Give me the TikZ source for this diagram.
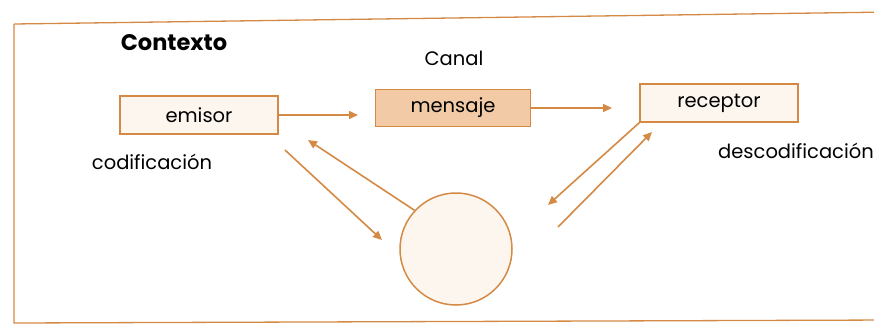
\documentclass[tikz,border=0pt]{standalone}
\usepackage{fontspec}
\setmainfont{Poppins}
\usetikzlibrary{arrows.meta}
\definecolor{brd}{HTML}{D48A45}
\definecolor{pale}{HTML}{FDF6EE}
\definecolor{peach}{HTML}{F2CBA6}
\begin{document}
\begin{tikzpicture}[x=1pt,y=-1pt,
thick,box/.style={draw=brd,line width=1.3pt,fill=pale,minimum width=158pt,minimum height=38pt,font=\fontsize{19.5}{22}\selectfont},
lbl/.style={font=\fontsize{19.5}{22}\selectfont},
arr/.style={draw=brd,line width=1.6pt,-{Triangle[length=9pt,width=8pt]}}]

\useasboundingbox (0,0) rectangle (874,327);
\fill[white] (0,0) rectangle (874,327);
\begin{scope}
\clip (0,0) rectangle (874,327);
\draw[brd,line width=1.3pt] (14,24) -- (14,323) -- (890,320);
\draw[brd,line width=1.3pt] (14,24) -- (890,12);
\end{scope}

\node[box] (emisor) at (199,115) {emisor};
\node[box,fill=peach,minimum width=155pt,minimum height=37pt] (mensaje) at (453,108) {mensaje};
\node[box] (receptor) at (719,103) {receptor};
\node[circle,draw=brd,line width=1.5pt,fill=pale,minimum size=112pt] (ruido) at (456,249) {};

\node[lbl,font=\fontsize{22.5}{26}\selectfont\bfseries] (ctx) at (174,43) {Contexto};
\node[lbl] (canal) at (454,58) {Canal};
\node[lbl] (cod) at (152,162) {codificación};
\node[lbl] (descod) at (796,151) {descodificación};

\coordinate (a1) at (285,150);
\coordinate (a2) at (382,240);
\coordinate (b2) at (308,140);
\coordinate (c2) at (548,205);
\coordinate (d1) at (558,227);
\coordinate (d2) at (652,132);

\draw[arr] (emisor) -- (358,115);
\draw[arr] (mensaje) -- (612,108);
\draw[arr] (a1) -- (a2);
\draw[arr] (ruido.137) -- (b2);
\draw[arr] (receptor.south west) -- (c2);
\draw[arr] (d1) -- (d2);
\end{tikzpicture}
\end{document}
